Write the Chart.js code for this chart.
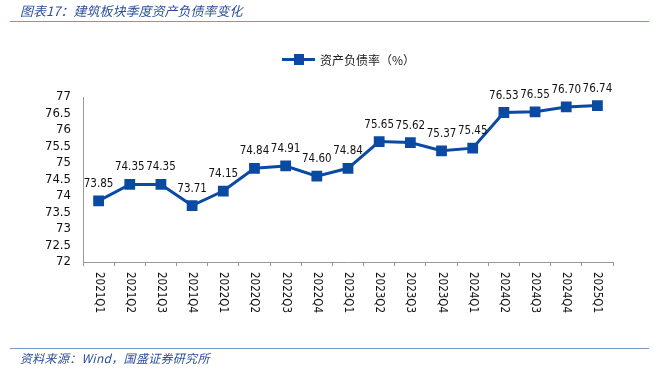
<!DOCTYPE html>
<html>
<head>
<meta charset="utf-8">
<script src="https://cdn.jsdelivr.net/npm/chart.js@4.4.1/dist/chart.umd.min.js"></script>
<style>
  html, body { margin: 0; padding: 0; background: #fff; }
  #wrap { position: relative; width: 653px; height: 378px; overflow: hidden; }
  #chart { position: absolute; left: 0; top: 0; }
  .title { position: absolute; left: 20px; top: 1px; font: italic 13px "Noto Sans CJK SC", sans-serif; color: #2b4f9c; }
  .rule { position: absolute; left: 10px; right: 4px; height: 1px; background: #7a97c6; }
  .source { position: absolute; left: 20px; top: 349px; font: italic 12px "Noto Sans CJK SC", sans-serif; color: #2b4f9c; letter-spacing: 0.3px; }
  .legend { position: absolute; left: 282px; top: 51px; font: 12px "Noto Sans CJK SC", sans-serif; color: #222; display: flex; align-items: center; }
  .legend .mk { position: relative; width: 33px; height: 3px; background: #0b4aa2; margin-right: 5px; }
  .legend .mk i { position: absolute; left: 12px; top: -4px; width: 10px; height: 11px; background: #0b4aa2; }
</style>
</head>
<body>
<div id="wrap">
  <canvas id="chart" width="653" height="378"></canvas>
  <div class="title">图表17：建筑板块季度资产负债率变化</div>
  <div class="rule" style="top:21px"></div>
  <div class="legend"><span class="mk"><i></i></span>资产负债率（%）</div>
  <div class="rule" style="top:348px"></div>
  <div class="source">资料来源：Wind，国盛证券研究所</div>
</div>
<script>
var quarters = ['2021Q1','2021Q2','2021Q3','2021Q4','2022Q1','2022Q2','2022Q3','2022Q4',
  '2023Q1','2023Q2','2023Q3','2023Q4','2024Q1','2024Q2','2024Q3','2024Q4','2025Q1'];
var debtRatio = [73.85, 74.35, 74.35, 73.71, 74.15, 74.84, 74.91, 74.60,
  74.84, 75.65, 75.62, 75.37, 75.45, 76.53, 76.55, 76.70, 76.74];
var yMin = 72, yMax = 77, yStep = 0.5;

var numFont = '"DejaVu Sans Condensed", "DejaVu Sans", sans-serif';

// value labels above points + x labels turned clockwise
var labelPlugin = {
  id: 'labels',
  afterDatasetsDraw: function(chart) {
    var ctx = chart.ctx;
    var meta = chart.getDatasetMeta(0);
    ctx.save();
    ctx.font = '11.5px ' + numFont;
    ctx.fillStyle = '#111';
    ctx.textAlign = 'center';
    ctx.textBaseline = 'alphabetic';
    meta.data.forEach(function(pt, i) {
      ctx.fillText(debtRatio[i].toFixed(2), pt.x, pt.y - 14);
    });
    var xs = chart.scales.x;
    ctx.font = '11.5px ' + numFont;
    ctx.textAlign = 'left';
    ctx.textBaseline = 'middle';
    quarters.forEach(function(q, i) {
      var x = xs.getPixelForValue(i);
      ctx.save();
      ctx.translate(x, xs.top + 10);
      ctx.rotate(Math.PI / 2);
      ctx.fillText(q, 0, 0);
      ctx.restore();
    });
    ctx.restore();
  }
};

new Chart(document.getElementById('chart'), {
  type: 'line',
  data: {
    labels: quarters,
    datasets: [{
      label: '资产负债率（%）',
      data: debtRatio,
      borderColor: '#0b4aa2',
      backgroundColor: '#0b4aa2',
      borderWidth: 3,
      pointStyle: 'rect',
      pointRadius: 5.5,
      pointHoverRadius: 5.5,
      tension: 0,
      fill: false
    }]
  },
  options: {
    responsive: false,
    animation: false,
    layout: { padding: { left: 0, right: 40, top: 97, bottom: 0 } },
    plugins: { legend: { display: false }, tooltip: { enabled: false } },
    scales: {
      x: {
        offset: true,
        grid: { offset: true, drawOnChartArea: false, drawTicks: true, tickLength: 4, color: '#999' },
        border: { color: '#999' },
        ticks: { display: false },
        afterFit: function(s) { s.height = 116; }
      },
      y: {
        min: yMin, max: yMax,
        grid: { display: false, tickLength: 0 },
        border: { color: '#999' },
        ticks: {
          stepSize: yStep, autoSkip: false, color: '#111', padding: 12,
          font: { family: numFont, size: 13 },
          callback: function(v) { return String(Math.round(v * 10) / 10); }
        },
        afterFit: function(s) { s.width = 83; }
      }
    }
  },
  plugins: [labelPlugin]
});
</script>
</body>
</html>
